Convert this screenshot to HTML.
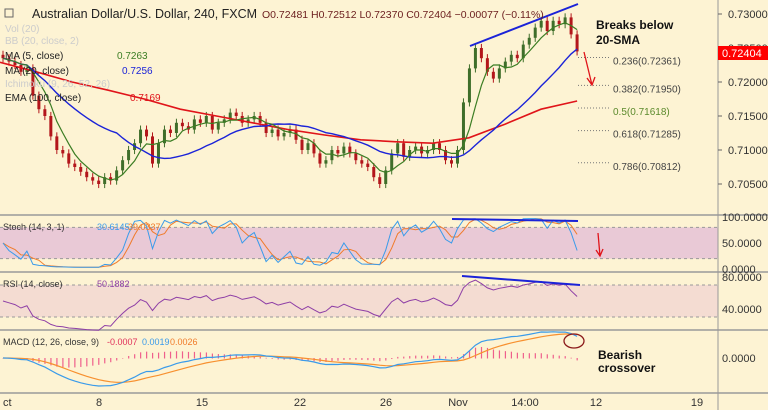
<!DOCTYPE html>
<html><head><meta charset="utf-8"><style>
body{margin:0;background:#fdf3d3;font-family:"Liberation Sans",sans-serif}
#wrap{position:relative;width:768px;height:410px;overflow:hidden;background:#fdf3d3}
svg text{font-family:"Liberation Sans",sans-serif}
</style></head><body>
<div id="wrap">
<svg id="c" width="768" height="410" xmlns="http://www.w3.org/2000/svg"></svg>
</div>
<script>
const closes=[0.7235,0.7230,0.7225,0.7215,0.7220,0.7180,0.7160,0.7150,0.7120,0.7100,0.7095,0.7080,0.7075,0.7068,0.7060,0.7055,0.7050,0.7060,0.7055,0.7070,0.7085,0.7100,0.7110,0.7130,0.7120,0.7080,0.7110,0.7130,0.7125,0.7140,0.7135,0.7130,0.7145,0.7140,0.7150,0.7130,0.7140,0.7145,0.7155,0.7150,0.7140,0.7145,0.7150,0.7140,0.7125,0.7130,0.7120,0.7125,0.7130,0.7115,0.7100,0.7110,0.7095,0.7080,0.7085,0.7100,0.7095,0.7105,0.7095,0.7085,0.7080,0.7075,0.7060,0.7050,0.7070,0.7095,0.7110,0.7090,0.7100,0.7105,0.7095,0.7100,0.7110,0.7100,0.7085,0.7080,0.7100,0.7170,0.7220,0.7250,0.7235,0.7215,0.7205,0.7220,0.7230,0.7240,0.7235,0.7255,0.7265,0.7280,0.7290,0.7275,0.7290,0.7285,0.7295,0.7270,0.7245];
const emaValues=[0.7229,0.7215,0.7200,0.7188,0.7175,0.7160,0.7150,0.7140,0.7130,0.7122,0.7115,0.7112,0.7110,0.7118,0.7138,0.7160,0.7172];
const priceTicks=[0.730,0.725,0.720,0.715,0.710,0.705];
const dateLabels=["ct","8","15","22","26","Nov","14:00","12","19"];
const dateX=[3,99,202,300,386,458,525,596,697];
const fibLevels=[0.72361,0.71950,0.71618,0.71285,0.70812];
const fibNames=["0.236","0.382","0.5","0.618","0.786"];

const S=document.getElementById('c'),NS='http://www.w3.org/2000/svg';
function el(t,a,p){const e=document.createElementNS(NS,t);for(const k in a)e.setAttribute(k,a[k]);(p||S).appendChild(e);return e;}
function tx(x,y,s,a){const e=el('text',Object.assign({x:x,y:y,'font-size':11,fill:'#333'},a||{}));e.textContent=s;return e;}
const X=i=>3+i*5.98;
const Y=p=>14+(0.730-p)*6800;
const n=closes.length;
const stY=v=>269-v*0.52, rsY=v=>309-(v-40)*0.8, mY=v=>358-v*6000;
let r;
r=el('rect',{x:0,y:stY(80),width:718,height:stY(20)-stY(80),fill:'#e9c9d6'});
r=el('rect',{x:0,y:rsY(70),width:718,height:rsY(30)-rsY(70),fill:'#f4dcd2'});
[stY(80),stY(20),rsY(70),rsY(30)].forEach(y=>el('line',{x1:0,x2:718,y1:y,y2:y,stroke:'#999','stroke-dasharray':'3,3','stroke-width':1}));
[215,272,330,393].forEach(y=>el('line',{x1:0,x2:768,y1:y,y2:y,stroke:'#999','stroke-width':1.5}));
el('line',{x1:718,x2:718,y1:0,y2:410,stroke:'#999'});
priceTicks.forEach(p=>{const t=tx(728,Y(p)+4,p.toFixed(5),{fill:'#333'});el('line',{x1:718,x2:722,y1:Y(p),y2:Y(p),stroke:'#666'});});
r=el('rect',{x:718,y:46,width:50,height:14,fill:'#f00'});
tx(722,57,'0.72404',{fill:'#fff','font-size':11});
[[100,'100.0000'],[50,'50.0000'],[0,'0.0000']].forEach(a=>tx(722,stY(a[0])+4,a[1]));
[[80,'80.0000'],[40,'40.0000']].forEach(a=>tx(722,rsY(a[0])+4,a[1]));
tx(722,mY(0)+4,'0.0000');
dateLabels.forEach((d,i)=>{const t=tx(dateX[i],406,d,{'text-anchor':i==0?'start':'middle','font-size':11});});
for(let i=0;i<n;i++){const c=closes[i],o=i?closes[i-1]:c+0.0005;const hi=Math.max(o,c)+0.0006,lo=Math.min(o,c)-0.0006;const col=c>=o?'#3f6e2a':'#b3161b';
const w=el('line',{x1:X(i),x2:X(i),y1:Y(hi),y2:Y(lo),stroke:col});
const b=el('rect',{x:X(i)-1.5,y:Math.min(Y(o),Y(c)),width:3,height:Math.max(1,Math.abs(Y(o)-Y(c))),fill:col});}
function ma(k){return closes.map((_,i)=>{let s=0,m=0;for(let j=Math.max(0,i-k+1);j<=i;j++){s+=closes[j];m++;}return s/m;});}
function pl(vals,xf,yf,col,w,name){const pts=vals.map((v,i)=>xf(i).toFixed(1)+','+yf(v).toFixed(1)).join(' ');const p=el('polyline',{points:pts,fill:'none',stroke:col,'stroke-width':w});}
pl(emaValues,i=>i*(X(n-1)/(emaValues.length-1)),Y,'#e0141a',1.6,'ema-100-line');
pl(ma(20),X,Y,'#1b23d8',1.4,'sma-20-line');
pl(ma(5),X,Y,'#3b7d23',1.2,'ma-5-line');
const K=closes.map((c,i)=>{let h=-1,l=9;for(let j=Math.max(0,i-13);j<=i;j++){h=Math.max(h,closes[j]+0.0006);l=Math.min(l,closes[j]-0.0006);}return 100*(c-l)/(h-l);});
const D=K.map((_,i)=>{let s=0,m=0;for(let j=Math.max(0,i-2);j<=i;j++){s+=K[j];m++;}return s/m;});
pl(D,X,stY,'#f07b2a',1,'stoch-d-line');pl(K,X,stY,'#3a9bea',1,'stoch-k-line');
let ag=0.0004,al=0.0004;const R=closes.map((c,i)=>{if(i){const d=c-closes[i-1];ag=(ag*13+Math.max(d,0))/14;al=(al*13+Math.max(-d,0))/14;}return 100-100/(1+ag/al);});
pl(R,X,rsY,'#8e3fa6',1,'rsi-line');
function ema(a,k){const m=2/(k+1);let e=a[0];return a.map(v=>e=v*m+e*(1-m));}
const e12=ema(closes,12),e26=ema(closes,26);const M=closes.map((_,i)=>e12[i]-e26[i]);const Sg=ema(M,9);
for(let i=0;i<n;i++){const h=M[i]-Sg[i];const b=el('rect',{x:X(i)-0.5,y:Math.min(mY(0),mY(h)),width:1.2,height:Math.abs(mY(h)-mY(0))+0.5,fill:'#ef5f8c'});}
pl(Sg,X,mY,'#f7902f',1.2,'macd-signal-line');pl(M,X,mY,'#3a9bea',1.2,'macd-line');
fibLevels.forEach((f,i)=>{el('line',{x1:578,x2:610,y1:Y(f),y2:Y(f),stroke:'#777','stroke-dasharray':'1,2'});const t=tx(613,Y(f)+7,fibNames[i]+'('+f.toFixed(5)+')',{fill:i==2?'#5b8a2c':'#444','font-size':10});});
el('line',{x1:470,y1:46,x2:578,y2:4,stroke:'#1b23d8','stroke-width':2});
el('line',{x1:452,y1:219,x2:578,y2:221,stroke:'#1b23d8','stroke-width':2});
el('line',{x1:462,y1:276,x2:580,y2:285,stroke:'#1b23d8','stroke-width':2});
el('path',{d:'M584,52 L592,85 M587,78 L592,85 L595,77',stroke:'#e0141a',fill:'none','stroke-width':1.3});
el('path',{d:'M598,233 L600,256 M596,250 L600,256 L603,249',stroke:'#e0141a',fill:'none','stroke-width':1.3});
el('ellipse',{cx:574,cy:341,rx:10,ry:7,fill:'none',stroke:'#8b1a1a','stroke-width':1.3});
tx(596,29,'Breaks below',{'font-weight':'bold','font-size':12,fill:'#111'});
tx(596,44,'20-SMA',{'font-weight':'bold','font-size':12,fill:'#111'});
tx(598,359,'Bearish',{'font-weight':'bold','font-size':12,fill:'#111'});
tx(598,372,'crossover',{'font-weight':'bold','font-size':12,fill:'#111'});
el('rect',{x:5,y:9,width:8,height:8,fill:'none',stroke:'#666'});
const hd=tx(32,18,'Australian Dollar/U.S. Dollar, 240, FXCM',{'font-size':12.5,fill:'#222'});
tx(262,18,'O0.72481  H0.72512  L0.72370  C0.72404  −0.00077 (−0.11%)',{'font-size':10.5,fill:'#6b1d1d'});
tx(5,32,'Vol (20)',{fill:'#ccc','font-size':10});tx(5,44,'BB (20, close, 2)',{fill:'#ccc','font-size':10});
tx(5,59,'MA (5, close)',{fill:'#222','font-size':10});tx(117,59,'0.7263',{fill:'#3b7d23','font-size':10});
tx(5,74,'MA (20, close)',{fill:'#222','font-size':10});tx(122,74,'0.7256',{fill:'#1b23d8','font-size':10});
tx(5,87,'Ichimoku (9, 26, 52, 26)',{fill:'#ccc','font-size':10});
tx(5,101,'EMA (100, close)',{fill:'#222','font-size':10});tx(130,101,'0.7169',{fill:'#e0141a','font-size':10});
tx(3,230,'Stoch (14, 3, 1)',{'font-size':9});tx(97,230,'30.6145',{fill:'#3a9bea','font-size':9});tx(128,230,'39.0337',{fill:'#f07b2a','font-size':9});
tx(3,287,'RSI (14, close)',{'font-size':9});tx(97,287,'50.1882',{fill:'#8e3fa6','font-size':9});
tx(3,345,'MACD (12, 26, close, 9)',{'font-size':9});tx(107,345,'-0.0007',{fill:'#e0305a','font-size':9});tx(142,345,'0.0019',{fill:'#3a9bea','font-size':9});tx(170,345,'0.0026',{fill:'#f07b2a','font-size':9});
</script>
</body></html>
